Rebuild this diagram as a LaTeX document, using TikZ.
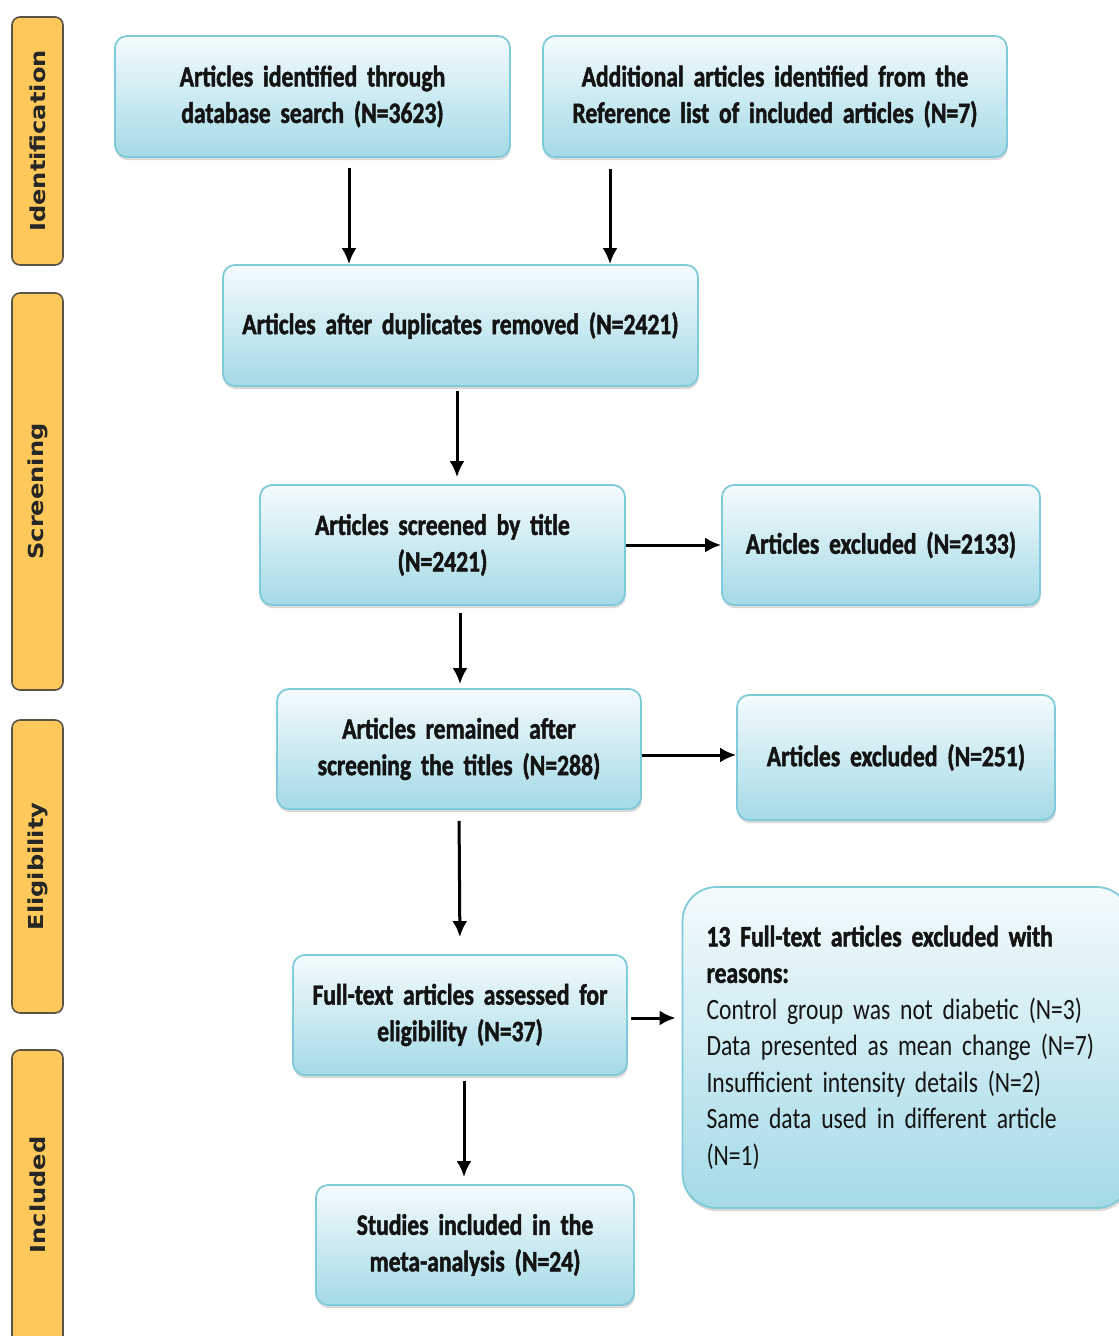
\documentclass[tikz,border=0pt]{standalone}
\usepackage{fontspec}
\setmainfont[FakeStretch=0.8, BoldFeatures={FakeBold=1.6}]{Carlito}
\newfontfamily\tabfont[FakeStretch=1.17]{DejaVu Sans}
\usetikzlibrary{arrows.meta,shadows}
\definecolor{boxtop}{HTML}{F4FBFD}
\definecolor{boxbottom}{HTML}{A4DAE6}
\definecolor{boxline}{HTML}{7FCBD9}
\definecolor{tabfill}{HTML}{FFC85A}
\definecolor{tabline}{HTML}{5A5348}
\DeclareRobustCommand\boxfont{\fontsize{14.75}{18.25}\selectfont\spaceskip=0.17em plus 0.05em\relax}
\tikzset{
	>={Latex[length=8pt,width=7.5pt]},
	flowbox/.style={
		rectangle,
		rounded corners=6pt,
		top color=boxtop,
		bottom color=boxbottom,
		draw=boxline, line width=0.9pt,
		inner sep=4pt,
		align=center,
		text=black!92,
		font=\boxfont\bfseries,
		drop shadow={shadow xshift=0.4pt, shadow yshift=-1.6pt, opacity=0.3}},
	phasetab/.style={
		rectangle,
		rounded corners=4pt,
		fill=tabfill,
		draw=tabline, line width=0.8pt,
		minimum width=25.5pt,
		inner sep=0pt},
	tablabel/.style={rotate=90, text=black!85,
		font=\tabfont\fontsize{10.3}{12}\selectfont\bfseries},
	line/.style={draw, line width=1.5pt, ->},
}

\begin{document}
\begin{tikzpicture}[x=0.5pt, y=-0.5pt]
\useasboundingbox (0,0) rectangle (1118,1336);

% phase tabs on the left
\node[phasetab, minimum height=124pt] (tabid) at (37.5,141) {};
\node[tablabel] at (tabid) {Identification};
\node[phasetab, minimum height=198.5pt] (tabscr) at (37.5,491.5) {};
\node[tablabel] at (tabscr) {Screening};
\node[phasetab, minimum height=146.5pt] (tabelig) at (37.5,866.5) {};
\node[tablabel] at (tabelig) {Eligibility};
\node[phasetab, minimum height=155pt] (tabincl) at (37.5,1205) {};
\node[tablabel] at (37.5,1195) {Included};

% flow boxes
\node[flowbox, text width=189.5pt, minimum height=60.5pt] (ident) at (312.5,96.5)
	{Articles identified through\\ database search (N=3623)};
\node[flowbox, text width=224pt, minimum height=60.5pt] (addit) at (775,96.5)
	{Additional articles identified from the\\ Reference list of included articles (N=7)};
\node[flowbox, text width=229.5pt, minimum height=60.5pt] (dupl) at (460.5,325.5)
	{Articles after duplicates removed (N=2421)};
\node[flowbox, text width=174.5pt, minimum height=60pt] (title) at (442.5,545)
	{Articles screened by title\\ (N=2421)};
\node[flowbox, text width=151pt, minimum height=60pt] (excla) at (881,545)
	{Articles excluded (N=2133)};
\node[flowbox, text width=174pt, minimum height=60pt] (remain) at (459,749)
	{Articles remained after\\ screening the titles (N=288)};
\node[flowbox, text width=151pt, minimum height=62.5pt] (exclb) at (896,757.5)
	{Articles excluded (N=251)};
\node[flowbox, text width=159pt, minimum height=60pt] (full) at (460,1015)
	{Full-text articles assessed for\\ eligibility (N=37)};
\node[flowbox, rounded corners=17pt, text width=200pt, minimum height=160.5pt,
	align=left, inner sep=12pt, font=\boxfont] (reasons) at (906.5,1047.5)
	{\textbf{13 Full-text articles excluded with}\\ \textbf{reasons:}\\
	Control group was not diabetic (N=3)\\ Data presented as mean change (N=7)\\
	Insufficient intensity details (N=2)\\ Same data used in different article\\ (N=1)};
\node[flowbox, text width=151pt, minimum height=60pt] (incl) at (475,1245)
	{Studies included in the\\ meta-analysis (N=24)};

% connectors
\draw[line, shorten <=5pt] ([xshift=18.25pt]ident.south) -- ([xshift=18.25pt]ident.south |- dupl.north);
\draw[line, shorten <=5.5pt] ([xshift=-82.5pt]addit.south) -- ([xshift=-82.5pt]addit.south |- dupl.north);
\draw[line, shorten <=2pt, shorten >=3.5pt] ([xshift=-1.75pt]dupl.south) -- ([xshift=-1.75pt]dupl.south |- title.north);
\draw[line] (title.east) -- (excla.west);
\draw[line, shorten <=3.5pt, shorten >=2pt] ([xshift=8.75pt]title.south) -- ([xshift=8.75pt]title.south |- remain.north);
\draw[line] ([yshift=-3pt]remain.east) -- ([yshift=-3pt]remain.east -| exclb.west);
\draw[line, shorten <=5.5pt, shorten >=8.5pt] (remain.south) -- (full.north);
\draw[line, shorten <=1.5pt, shorten >=3pt] ([yshift=-1.5pt]full.east) -- ([yshift=-1.5pt]full.east -| reasons.west);
\draw[line, shorten <=2.5pt, shorten >=3.5pt] ([xshift=2pt]full.south) -- ([xshift=2pt]full.south |- incl.north);
\end{tikzpicture}
\end{document}
